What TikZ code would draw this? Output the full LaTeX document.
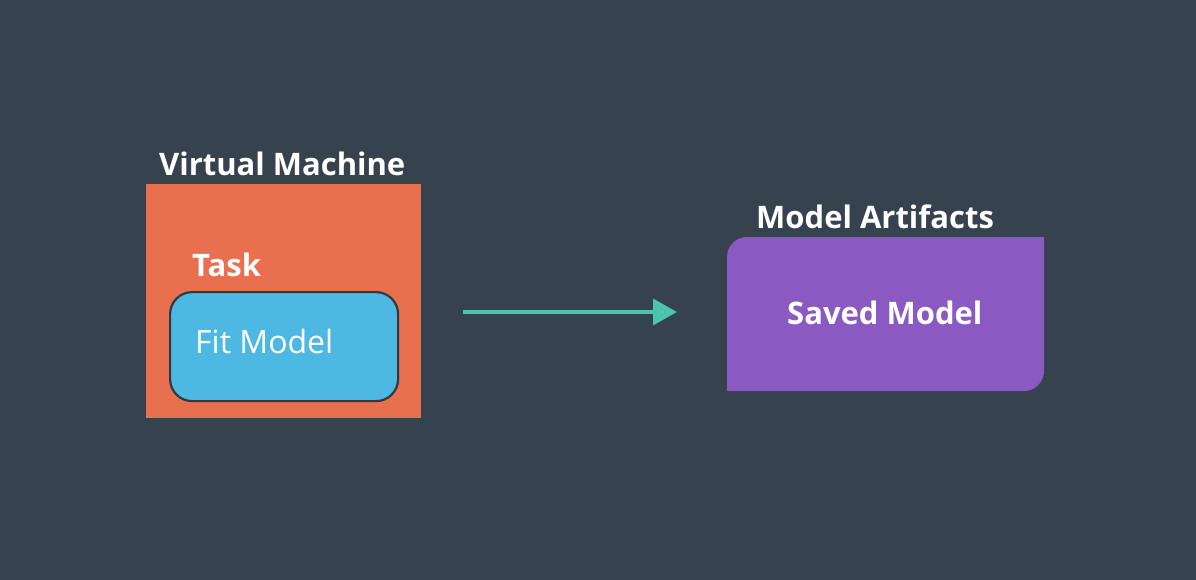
\documentclass[tikz,border=0pt]{standalone}
\usepackage{fontspec}
\setmainfont{Open Sans}
\usetikzlibrary{arrows.meta}
\definecolor{bg}{HTML}{36434F}
\definecolor{vmorange}{HTML}{E8704F}
\definecolor{fitblue}{HTML}{4DB8E2}
\definecolor{artpurple}{HTML}{8A5AC2}
\definecolor{arrowteal}{HTML}{4DC5AE}
\definecolor{edge}{HTML}{2E3A44}
\tikzset{
  lbl/.style={text=white, font=\fontsize{31}{36}\selectfont\bfseries, inner sep=0pt, anchor=base west},
}
\begin{document}
\begin{tikzpicture}[x=1pt,y=-1pt]
\fill[bg] (0,0) rectangle (1196,580);
\useasboundingbox (0,0) rectangle (1196,580);
% virtual machine
\node[fill=vmorange, minimum width=275pt, minimum height=234pt, anchor=north west, inner sep=0pt] (vm) at (146,184) {};
\node[lbl] (vmlbl) at (159,176) {Virtual Machine};
\node[lbl] (tasklbl) at (192,276) {Task};
\node[fill=fitblue, draw=edge, line width=2.2pt, rounded corners=22pt, minimum width=228pt, minimum height=109pt, anchor=north west, inner sep=0pt] (fit) at (169,291) {};
\node[lbl, font=\fontsize{32}{36}\selectfont] (fitlbl) at (195,353) {Fit Model};
% artifacts
\coordinate (pa) at (727,237);
\fill[artpurple] (727,391) -- (727,257) arc[start angle=180, end angle=270, radius=20] -- (1044,237) -- (1044,371) arc[start angle=0, end angle=90, radius=20] -- cycle;
\node[inner sep=0pt, minimum width=317pt, minimum height=154pt, anchor=north west] (art) at (pa) {};
\node[lbl] (artlbl) at (756,229) {Model Artifacts};
\node[lbl] (savedlbl) at (787,324) {Saved Model};
% arrow
\coordinate (as) at (463,312);
\coordinate (ae) at (677,312);
\draw[arrowteal, line width=3.2pt, -{Triangle[width=26pt,length=24pt]}] (as) -- (ae);
\end{tikzpicture}
\end{document}
